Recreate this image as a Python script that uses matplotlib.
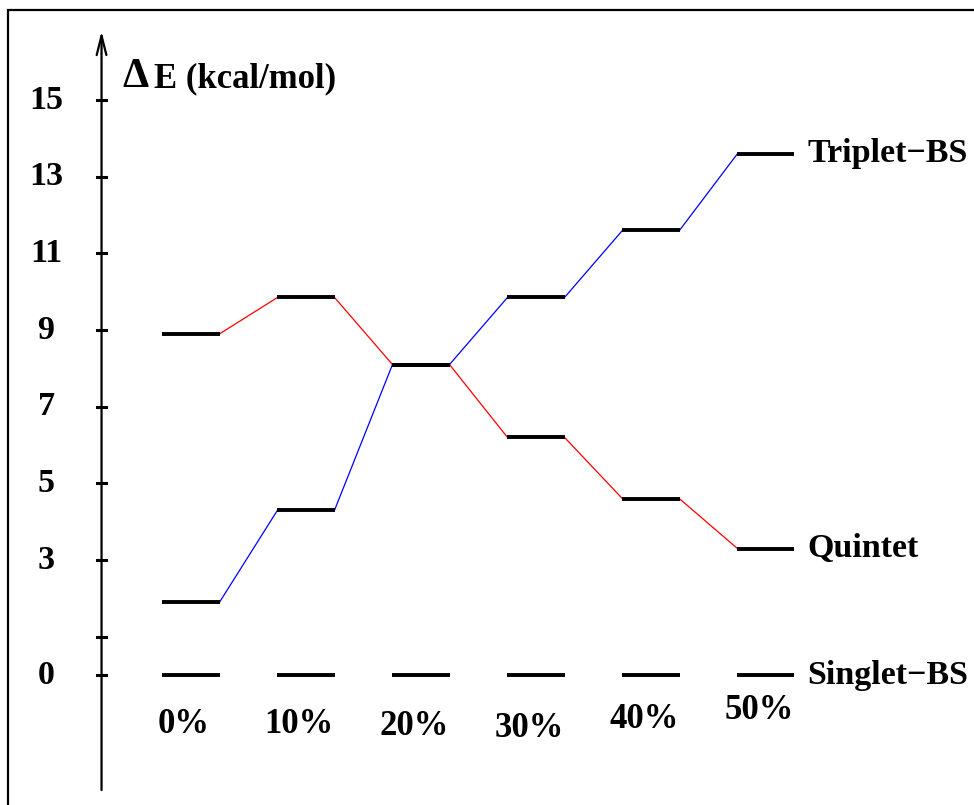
import matplotlib
matplotlib.use("Agg")
import matplotlib.pyplot as plt
from matplotlib.patches import Rectangle

# level energies (kcal/mol) for each composition
pct_labels = ['0%', '10%', '20%', '30%', '40%', '50%']
triplet = [1.9, 4.3, 8.1, 9.85, 11.6, 13.6]
quintet = [8.9, 9.85, 8.1, 6.2, 4.6, 3.3]
singlet = [0, 0, 0, 0, 0, 0]
series_names = ['Triplet\u2212BS', 'Quintet', 'Singlet\u2212BS']
ytick_vals = [15, 13, 11, 9, 7, 5, 3, 1, 0]
ytick_labels = ['15', '13', '11', '9', '7', '5', '3', '', '0']
# small vertical jitter of the composition labels, as in the original
label_y = [-1.3, -1.3, -1.35, -1.4, -1.15, -0.92]

plt.rcParams['font.family'] = ['Liberation Serif', 'DejaVu Serif']
plt.rcParams['font.weight'] = 'bold'

fig = plt.figure(figsize=(9.74, 8.05), dpi=100)
ax = fig.add_axes([0, 0, 1, 1])
ax.set_xlim(-1.661, 6.809)
ax.set_ylim(-3.39, 17.61)
ax.axis('off')

# frame (cut by the right and bottom edges)
fig.patches.append(Rectangle((8 / 974, -0.05), 1.2, 1 - 10 / 805 + 0.05,
                             transform=fig.transFigure, fill=False,
                             lw=1.6, ec='black'))

half = 0.248
axis_x = -0.778

# energy axis with arrow
ax.annotate('', xy=(axis_x, 16.8), xytext=(axis_x, -3.0),
            arrowprops=dict(arrowstyle='->,head_length=1.4,head_width=0.35',
                            lw=1.6, color='black', shrinkA=0, shrinkB=0))
for v, lab in zip(ytick_vals, ytick_labels):
    ax.plot([axis_x - 0.04, axis_x + 0.04], [v, v], color='black', lw=2.2)
    if lab:
        ax.text(-1.26, v, lab, ha='center', va='center', fontsize=24.5,
                fontweight='bold')

ax.text(-0.6, 15.6, '\u0394', ha='left', va='center', fontsize=30,
        fontweight='bold')
ax.text(-0.32, 15.55, 'E (kcal/mol)', ha='left', va='center', fontsize=25,
        fontweight='bold')

# connecting lines
for i in range(len(pct_labels) - 1):
    ax.plot([i + half, i + 1 - half], [quintet[i], quintet[i + 1]],
            color='#ff0000', lw=0.9)
    ax.plot([i + half, i + 1 - half], [triplet[i], triplet[i + 1]],
            color='#0000ff', lw=0.9)

# levels
for series in (triplet, quintet, singlet):
    for i, v in enumerate(series):
        ax.plot([i - half, i + half], [v, v], color='black', lw=2.8,
                solid_capstyle='butt')

# composition labels
for i, lab in enumerate(pct_labels):
    ax.text(i - 0.06, label_y[i], lab, ha='center', va='center', fontsize=25,
            fontweight='bold')

# series names
last = len(pct_labels) - 1
for name, series in zip(series_names, (triplet, quintet, singlet)):
    ax.text(last + 0.36, series[-1], name, ha='left', va='center',
            fontsize=24.5, fontweight='bold')

fig.savefig('out.png', dpi=100)
